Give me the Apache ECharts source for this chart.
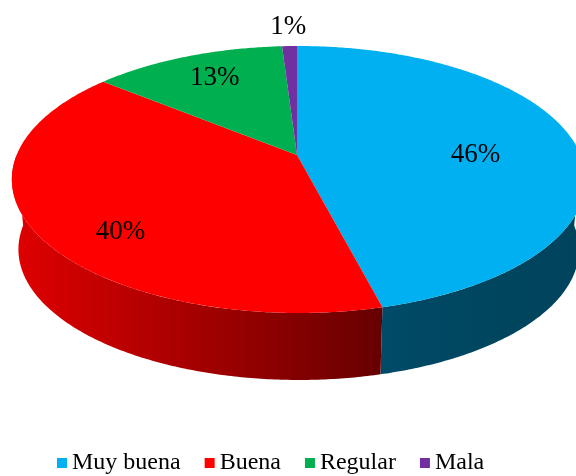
<!DOCTYPE html>
<html>
<head>
<meta charset="utf-8">
<script src="https://cdn.jsdelivr.net/npm/echarts@6/dist/echarts.min.js"></script>
<style>
  html, body { margin: 0; padding: 0; background: #ffffff; }
  #chart { width: 576px; height: 476px; }
</style>
</head>
<body>
<div id="chart"></div>
<script>
// Survey answers and their shares (percent)
const categories = ['Muy buena', 'Buena', 'Regular', 'Mala'];
const shares = [46, 40, 13, 1];

// Face colours and side-wall shading per category
const topColors = ['#00b0f0', '#ff0000', '#00b050', '#7030a0'];
const sideShades = [
  ['#004b68', '#00465f', '#00435c'],
  ['#e00000', '#b80000', '#900000', '#660000'],
  ['#008040', '#006a34', '#005028'],
  ['#582080', '#48186a', '#381050']
];

const total = shares.reduce((a, b) => a + b, 0);
const starts = [];
shares.reduce((acc, v) => { starts.push(acc); return acc + v; }, 0);

// Perspective view of the disc: pie centre, radii, depth tilt (k),
// slight sideways tilt (h), wall thickness and bottom-rim shrink
const view = { cx: 297, cy: 155, rx: 282, ry: 129, k: 0.1835, h: 0.006, depth: 70.6, shrink: 0.977 };

// angle measured clockwise from 12 o'clock; r is fraction of the radius
function project(theta, r, lower) {
  const u = r * Math.sin(theta);
  const v = -r * Math.cos(theta);
  const w = 1 / (1 - view.k * v - view.h * u);
  const s = lower ? view.shrink : 1;
  return [view.cx + view.rx * s * u * w,
          view.cy + (lower ? view.depth : 0) + view.ry * s * v * w];
}

function arc(a0, a1, lower) {
  const n = Math.max(2, Math.ceil((a1 - a0) / 0.01));
  const pts = [];
  for (let i = 0; i <= n; i++) pts.push(project(a0 + (a1 - a0) * i / n, 1, lower));
  return pts;
}

function gradient(stops) {
  return {
    type: 'linear', x: 0, y: 0, x2: 1, y2: 0, global: false,
    colorStops: stops.map((c, i) => ({ offset: i / (stops.length - 1), color: c }))
  };
}

// Label anchor: mid-angle of the slice on a smaller, flatter ellipse than the face;
// very thin slices get their label just outside the rim
function labelPoint(mid, small) {
  if (small) return project(mid, 1.22, false);
  const r = 0.7;
  const p = project(mid, r, false);
  const u = r * Math.sin(mid);
  const v = -r * Math.cos(mid);
  return [p[0] - 6 - 13 * u, p[1] + 14 + 30 * v];
}

function makeRender(idx) {
  return function (params, api) {
    const start = api.value(0);
    const value = api.value(1);
    const a0 = start / total * Math.PI * 2;
    const a1 = (start + value) / total * Math.PI * 2;
    const children = [];

    // front wall, only the half facing the viewer
    const s0 = Math.max(a0, Math.PI / 2);
    const s1 = Math.min(a1, Math.PI * 1.5);
    if (s1 > s0) {
      const pts = arc(s0, s1, false).concat(arc(s0, s1, true).reverse());
      children.push({
        type: 'polygon', z2: 1,
        shape: { points: pts },
        style: { fill: gradient(sideShades[idx]) }
      });
    }

    // top face
    children.push({
      type: 'polygon', z2: 5,
      shape: { points: [[view.cx, view.cy]].concat(arc(a0, a1, false)) },
      style: { fill: topColors[idx] }
    });

    // percentage label
    const mid = (a0 + a1) / 2;
    const p = labelPoint(mid, value / total < 0.03);
    children.push({
      type: 'text', z2: 10,
      style: {
        text: Math.round(value / total * 100) + '%',
        x: p[0], y: p[1],
        fill: '#000000',
        font: '27px "Liberation Serif"',
        align: 'center', verticalAlign: 'middle',
        textAlign: 'center', textVerticalAlign: 'middle'
      }
    });

    return { type: 'group', children: children };
  };
}

const chart = echarts.init(document.getElementById('chart'), null, { renderer: 'canvas' });
chart.setOption({
  backgroundColor: '#ffffff',
  animation: false,
  legend: {
    data: categories,
    left: 52,
    top: 446,
    itemWidth: 10,
    itemHeight: 10,
    itemGap: 24,
    icon: 'rect',
    textStyle: { fontFamily: '"Liberation Serif", serif', fontSize: 24, color: '#000000' }
  },
  series: categories.map((name, i) => ({
    type: 'custom',
    name: name,
    coordinateSystem: 'none',
    itemStyle: { color: topColors[i] },
    data: [[starts[i], shares[i]]],
    renderItem: makeRender(i)
  }))
});
</script>
</body>
</html>
